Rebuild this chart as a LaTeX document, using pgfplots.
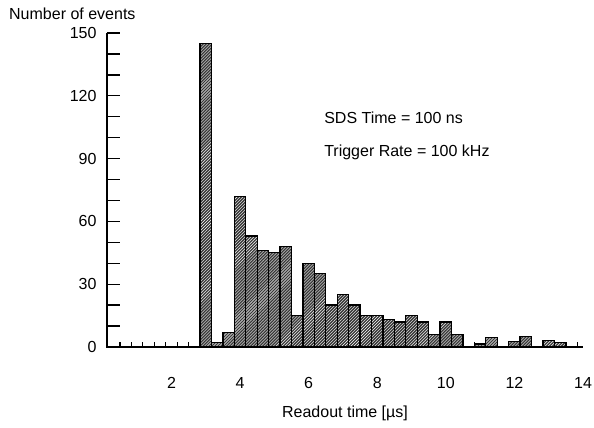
\documentclass[border=0pt]{standalone}
\usepackage{fontspec}
\setmainfont{Liberation Sans}
\usepackage{pgfplots}
\pgfplotsset{compat=1.18}
\usetikzlibrary{patterns}
\begin{document}
\fontsize{16bp}{19bp}\selectfont
\begin{tikzpicture}
\begin{axis}[
  scale only axis, width=476bp, height=314bp,
  xmin=0.12, xmax=14, ymin=0, ymax=150,
  clip=false,
  axis lines*=left,
  axis line style={line width=1.6bp},
  /pgf/number format/assume math mode=true,
  ticklabel style={font=\fontsize{16bp}{19bp}\selectfont},
  xtick={2,4,...,14},
  ytick={0,30,...,150},
  minor ytick={10,20,40,50,70,80,100,110,130,140},
  tick align=inside,
  major tick length=13bp, minor tick length=13bp,
  ytick style={line width=1.4bp, black},
  xtick style={draw=none},
  extra x ticks={0.5,0.8333,1.1667,1.5,1.8333,2.1667,2.5,2.8333,10.5,10.8333,11.1667,11.5,11.8333,12.1667,12.5,12.8333,13.1667,13.5,13.8333},
  extra x tick labels={},
  extra x tick style={tick align=inside, major tick length=5bp, xtick style={draw=black, line width=1.2bp}},
  xticklabel style={yshift=-12bp},
  yticklabel style={xshift=-5bp},
  ybar, bar width=0.3333,
  xlabel={Readout time [µs]},
  xlabel style={at={(rel axis cs:0.5,0)}, anchor=center, yshift=-66bp},
  ylabel={Number of events},
  ylabel style={rotate=-90, at={(rel axis cs:0,1)}, anchor=west, inner sep=0pt, xshift=-98bp, yshift=19bp},
]
\addplot[draw=black, line width=1.3bp, fill=black!78, postaction={pattern=north east lines, pattern color=white}] coordinates {
(3.0000,145) (3.3333,2) (3.6667,7) (4.0000,72) (4.3333,53) (4.6667,46)
(5.0000,45) (5.3333,48) (5.6667,15) (6.0000,40) (6.3333,35) (6.6667,20)
(7.0000,25) (7.3333,20) (7.6667,15) (8.0000,15) (8.3333,13) (8.6667,12)
(9.0000,15) (9.3333,12) (9.6667,6) (10.0000,12) (10.3333,6)
(11.0000,1.5) (11.3333,4.5) (12.0000,2.5) (12.3333,5) (13.0000,3) (13.3333,2)
};
\draw[line width=1.6bp, black] (rel axis cs:0,1) -- (rel axis cs:0,0) -- (rel axis cs:1,0);
\node[anchor=west, inner sep=0pt] at (axis cs:6.45,109.5) {SDS Time = 100 ns};
\node[anchor=west, inner sep=0pt] at (axis cs:6.45,93) {Trigger Rate = 100 kHz};
\end{axis}
\pgfresetboundingbox
\path[use as bounding box] ([shift={(-107bp,-81bp)}]current axis.south west) rectangle ([shift={(11bp,33bp)}]current axis.north east);
\end{tikzpicture}
\end{document}
